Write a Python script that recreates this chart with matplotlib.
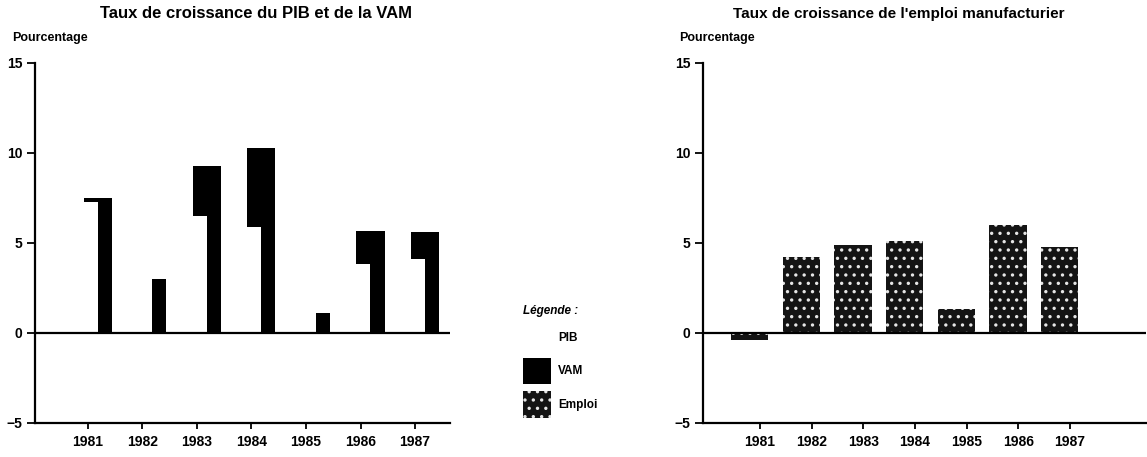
import numpy as np
import matplotlib
matplotlib.use("Agg")
import matplotlib.pyplot as plt
from matplotlib.patches import Patch

plt.rcParams['font.family'] = ['Liberation Sans', 'DejaVu Sans']
plt.rcParams['hatch.linewidth'] = 1.2

# Données
annees = ['1981', '1982', '1983', '1984', '1985', '1986', '1987']
pib = [7.3, 4.0, 6.5, 5.9, 2.0, 3.85, 4.1]      # barres blanches (contour perdu au scan)
vam = [7.5, 3.0, 9.3, 10.3, 1.1, 5.65, 5.6]
emploi = [-0.4, 4.2, 4.9, 5.1, 1.35, 6.0, 4.8]
yticks = [-5, 0, 5, 10, 15]

fig = plt.figure(figsize=(11.47, 4.57), dpi=100)

W, H = 1147, 457
ax1 = fig.add_axes([35 / W, 1 - 423 / H, 415 / W, 360 / H])
ax2 = fig.add_axes([703 / W, 1 - 423 / H, 443 / W, 360 / H])

x = np.arange(len(annees))

# graphique de gauche : PIB devant VAM
ax1.bar(x + 0.18, vam, width=0.52, color='black', zorder=2)
ax1.bar(x + 0.18 - 0.25, pib, width=0.5, color='white', zorder=3)
ax1.set_xlim(-0.97, 6.64)

# graphique de droite : emploi
ax2.bar(x - 0.2, emploi, width=0.72, color='#141414', edgecolor='#e6e6e6',
        hatch='..', linewidth=0, zorder=2)
ax2.set_xlim(-1.10, 7.47)

for ax in (ax1, ax2):
    ax.set_ylim(-5, 15)
    ax.set_yticks(yticks)
    ax.set_yticklabels(['\u22125', '0', '5', '10', '15'])
    ax.set_xticks(x)
    ax.set_xticklabels(annees)
    ax.axhline(0, color='black', lw=1.6, zorder=4)
    for s in ('top', 'right'):
        ax.spines[s].set_visible(False)
    ax.spines['left'].set_linewidth(1.6)
    ax.spines['bottom'].set_linewidth(1.6)
    ax.tick_params(axis='y', direction='out', length=6, width=1.3, labelsize=10, pad=3)
    ax.tick_params(axis='x', direction='out', length=4, width=1.3, labelsize=10, pad=5)
    for lab in ax.get_xticklabels() + ax.get_yticklabels():
        lab.set_fontweight('bold')

fig.text(256 / W, 1 - 14 / H, 'Taux de croissance du PIB et de la VAM',
         ha='center', va='center', fontsize=12, fontweight='bold')
fig.text(12 / W, 1 - 38 / H, 'Pourcentage', ha='left', va='center',
         fontsize=9, fontweight='bold')
fig.text(899 / W, 1 - 14 / H, "Taux de croissance de l'emploi manufacturier",
         ha='center', va='center', fontsize=11, fontweight='bold')
fig.text(679 / W, 1 - 38 / H, 'Pourcentage', ha='left', va='center',
         fontsize=9, fontweight='bold')

handles = [Patch(facecolor='white', edgecolor='none'),
           Patch(facecolor='black', edgecolor='none'),
           Patch(facecolor='#141414', edgecolor='#e6e6e6', hatch='..', linewidth=0)]
leg = fig.legend(handles, ['PIB', 'VAM', 'Emploi'], loc='upper left',
                 bbox_to_anchor=(518 / W, 1 - 300 / H), frameon=False,
                 title='Légende :', alignment='left',
                 title_fontproperties={'weight': 'bold', 'style': 'italic', 'size': 8.5},
                 prop={'weight': 'bold', 'size': 8.5},
                 handlelength=2.4, handleheight=3.1, labelspacing=0.6,
                 handletextpad=0.6, borderaxespad=0)

fig.savefig('out.png', dpi=100)
